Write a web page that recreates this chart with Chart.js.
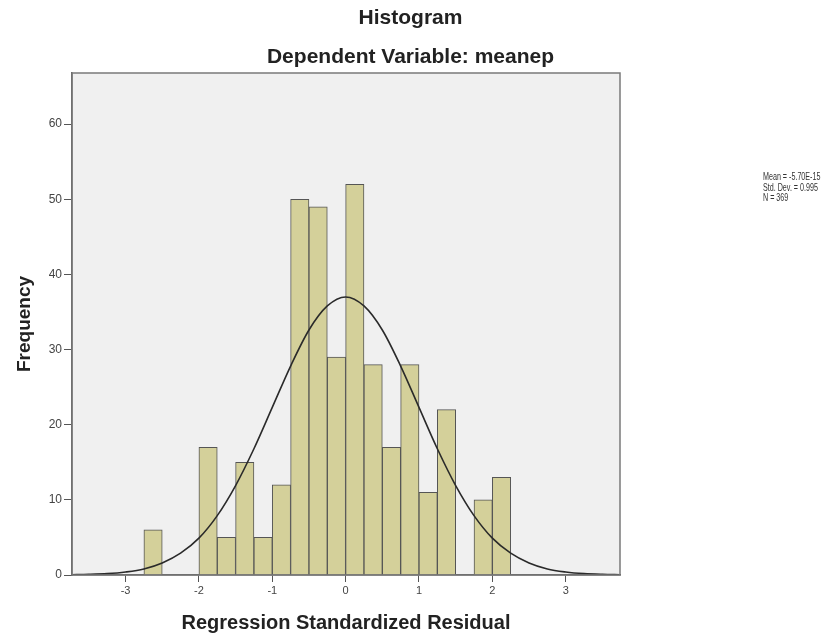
<!DOCTYPE html>
<html>
<head>
<meta charset="utf-8">
<script src="https://cdn.jsdelivr.net/npm/chart.js@4"></script>
<style>
    html, body {margin: 0; padding: 0; background: #fff;}
    #wrap {width: 823px; height: 642px;}
</style>
</head>
<body>
<div id="wrap"><canvas id="histChart" width="823" height="642"></canvas></div>
<script>
// bin centers (width 0.25) and counts
let binCenters = [-2.625, -1.875, -1.625, -1.375, -1.125, -0.875, -0.625, -0.375, -0.125, 0.125, 0.375, 0.625, 0.875, 1.125, 1.375, 1.875, 2.125];
let binCounts = [6, 17, 5, 15, 5, 12, 50, 49, 29, 52, 28, 17, 28, 11, 22, 10, 13];

// normal curve
let curveX = [-3.75, -3.5, -3.25, -3, -2.75, -2.5, -2.25, -2, -1.75, -1.5, -1.25, -1, -0.75, -0.5, -0.25, 0, 0.25, 0.5, 0.75, 1, 1.25, 1.5, 1.75, 2, 2.25, 2.5, 2.75, 3, 3.25, 3.5, 3.75];
let curveY = [0.03, 0.08, 0.18, 0.4, 0.8, 1.6, 2.9, 4.9, 7.9, 11.9, 16.8, 22.3, 27.8, 32.6, 35.8, 37.0, 35.8, 32.6, 27.8, 22.3, 16.8, 11.9, 7.9, 4.9, 2.9, 1.6, 0.8, 0.4, 0.18, 0.08, 0.03];

let xTicks = [-3, -2, -1, 0, 1, 2, 3];
let yTicks = [0, 10, 20, 30, 40, 50, 60];
let statLines = ['Mean = -5.70E-15', 'Std. Dev. = 0.995', 'N = 369'];

const FONT = 'Arial, "Liberation Sans", sans-serif';

const framePlugin = {
    id: 'frame',
    beforeDraw: function (chart) {
        let ctx = chart.ctx, a = chart.chartArea;
        ctx.save();
        ctx.fillStyle = '#f0f0f0';
        ctx.fillRect(a.left, a.top, a.right - a.left, a.bottom - a.top);
        ctx.restore();
    },
    afterDraw: function (chart) {
        let ctx = chart.ctx, a = chart.chartArea;
        ctx.save();
        ctx.strokeStyle = '#7a7a7a';
        ctx.lineWidth = 1.5;
        ctx.strokeRect(a.left, a.top, a.right - a.left, a.bottom - a.top);

        ctx.fillStyle = '#222';
        ctx.textAlign = 'center';
        ctx.textBaseline = 'middle';
        ctx.font = 'bold 21px ' + FONT;
        ctx.fillText('Histogram', 410.5, 18);
        ctx.fillText('Dependent Variable: meanep', 410.5, 57);

        // small stats box on the right, squeezed like the SPSS output
        ctx.font = '11px ' + FONT;
        ctx.textAlign = 'left';
        ctx.fillStyle = '#333';
        ctx.translate(763, 0);
        ctx.scale(0.65, 1);
        statLines.forEach(function (line, i) {
            ctx.fillText(line, 0, 177 + i * 10.5);
        });
        ctx.restore();
    }
};

new Chart(document.getElementById('histChart'), {
    type: 'bar',
    data: {
        datasets: [{
            type: 'line',
            data: curveX.map(function (x, i) { return {x: x, y: curveY[i]}; }),
            borderColor: '#2a2a2a',
            borderWidth: 1.6,
            pointRadius: 0,
            fill: false,
            cubicInterpolationMode: 'monotone',
            order: 0
        }, {
            type: 'bar',
            data: binCenters.map(function (x, i) { return {x: x, y: binCounts[i]}; }),
            backgroundColor: '#d4d09a',
            borderColor: '#555',
            borderWidth: 1,
            barPercentage: 1,
            categoryPercentage: 1,
            order: 1
        }]
    },
    options: {
        responsive: false,
        animation: false,
        layout: {padding: {top: 73, right: 203, left: 0, bottom: 0}},
        plugins: {legend: {display: false}, tooltip: {enabled: false}},
        scales: {
            x: {
                type: 'linear',
                min: -3.73,
                max: 3.74,
                offset: false,
                afterFit: function (s) { s.height = 67; },
                afterBuildTicks: function (s) { s.ticks = xTicks.map(function (v) { return {value: v}; }); },
                grid: {drawOnChartArea: false, offset: false, tickLength: 7, tickColor: '#555'},
                border: {color: '#555', width: 1.5},
                ticks: {color: '#444', font: {family: FONT, size: 11}, padding: 2, maxRotation: 0},
                title: {display: true, text: 'Regression Standardized Residual', color: '#222',
                    font: {family: FONT, size: 20, weight: 'bold'}, padding: {top: 0, bottom: 7}}
            },
            y: {
                min: 0,
                max: 66.8,
                afterFit: function (s) { s.width = 72; },
                afterBuildTicks: function (s) { s.ticks = yTicks.map(function (v) { return {value: v}; }); },
                grid: {drawOnChartArea: false, tickLength: 8, tickColor: '#555'},
                border: {color: '#555', width: 1.5},
                ticks: {color: '#444', font: {family: FONT, size: 12}, padding: 2},
                title: {display: true, text: 'Frequency', color: '#222',
                    font: {family: FONT, size: 19, weight: 'bold'}, padding: {top: 13, bottom: 0}}
            }
        }
    },
    plugins: [framePlugin]
});
</script>
</body>
</html>
